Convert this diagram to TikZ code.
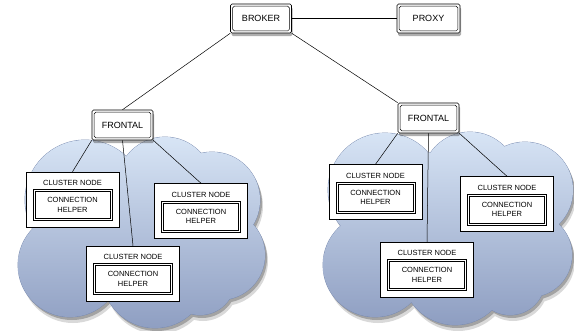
\documentclass[tikz,border=0pt]{standalone}
\usepackage{fontspec}
\setmainfont{Liberation Sans}
\usetikzlibrary{shadows}
\definecolor{cloudtop}{RGB}{218,231,247}
\definecolor{cloudbot}{RGB}{140,156,192}
\definecolor{cloudline}{RGB}{120,138,175}
\tikzset{
  cloudL/.style={insert path={(85,200) circle[radius=60] (165,185) circle[radius=48] (212,200) circle[radius=48]
     (220,255) circle[radius=45] (70,265) circle[radius=52] (155,275) circle[radius=53] (200,280) circle[radius=35]
     (140,230) circle[radius=70]}},
  cloudR/.style={insert path={(385,190) circle[radius=57] (470,180) circle[radius=48] (525,190) circle[radius=48]
     (530,255) circle[radius=42] (375,265) circle[radius=52] (455,272) circle[radius=53] (510,280) circle[radius=35]
     (450,225) circle[radius=75]}},
  innerframe/.style={path picture={\draw[line width=0.5pt]
     ([shift={(#1,#1)}]path picture bounding box.south west) rectangle
     ([shift={(-#1,-#1)}]path picture bounding box.north east);}},
  topbox/.style={draw, line width=0.6pt, rounded corners=1.5pt, fill=white, innerframe=2.2pt,
     minimum width=61pt, minimum height=29pt, font=\fontsize{9}{11}\selectfont,
     drop shadow={shadow xshift=1pt, shadow yshift=-3pt, opacity=0.45, fill=black!70}},
  cnbox/.style={draw, line width=0.5pt, fill=white, minimum width=93pt, minimum height=55pt},
  cnlabel/.style={inner sep=0pt, font=\fontsize{7.5}{9}\selectfont},
  helper/.style={draw, line width=0.5pt, fill=white, innerframe=2pt, align=center,
     minimum width=79pt, minimum height=31pt, inner sep=1pt, font=\fontsize{7.5}{9.5}\selectfont},
  link/.style={draw, line width=0.5pt}
}
\begin{document}
\begin{tikzpicture}[x=1pt, y=-1pt]
\useasboundingbox (0,0) rectangle (574,330);
% cloud shadows
\fill[black, opacity=0.15, shift={(3,6)}, cloudL];
\fill[black, opacity=0.25, shift={(2,3)}, cloudL];
\fill[black, opacity=0.15, shift={(3,6)}, cloudR];
\fill[black, opacity=0.25, shift={(2,3)}, cloudR];
% cloud outlines
\draw[cloudline, line width=0.8pt, cloudL];
\draw[cloudline, line width=0.8pt, cloudR];
% cloud fills
\begin{scope}
  \path[clip, cloudL];
  \shade[top color=cloudtop, bottom color=cloudbot] (0,130) rectangle (280,335);
\end{scope}
\begin{scope}
  \path[clip, cloudR];
  \shade[top color=cloudtop, bottom color=cloudbot] (300,125) rectangle (574,330);
\end{scope}
% top level
\node[topbox] (broker) at (261,18.5) {BROKER};
\node[topbox, minimum width=63pt] (proxy) at (428.5,18.5) {PROXY};
\node[topbox, minimum height=30pt] (frontL) at (122.5,125) {FRONTAL};
\node[topbox, minimum height=30pt] (frontR) at (428.5,118) {FRONTAL};
% left cluster
\node[cnbox] (l1) at (72.5,199.5) {};
\node[cnlabel] (l1t) at (72.5,183) {CLUSTER NODE};
\node[helper] (l1h) at (72.5,205) {CONNECTION\\HELPER};
\node[cnbox] (l2) at (201,211) {};
\node[cnlabel] (l2t) at (201,194.5) {CLUSTER NODE};
\node[helper] (l2h) at (201,216.5) {CONNECTION\\HELPER};
\node[cnbox] (l3) at (133,273.5) {};
\node[cnlabel] (l3t) at (133,257) {CLUSTER NODE};
\node[helper] (l3h) at (133,279) {CONNECTION\\HELPER};
% right cluster
\node[cnbox] (r1) at (375.5,192) {};
\node[cnlabel] (r1t) at (375.5,175.5) {CLUSTER NODE};
\node[helper] (r1h) at (375.5,197.5) {CONNECTION\\HELPER};
\node[cnbox] (r2) at (507,204) {};
\node[cnlabel] (r2t) at (507,187.5) {CLUSTER NODE};
\node[helper] (r2h) at (507,209.5) {CONNECTION\\HELPER};
\node[cnbox] (r3) at (427,269.5) {};
\node[cnlabel] (r3t) at (427,253) {CLUSTER NODE};
\node[helper] (r3h) at (427,275) {CONNECTION\\HELPER};
% links
\path[link] (broker) -- (proxy);
\path[link] (broker.south west) -- (frontL.north);
\path[link] (broker.south east) -- (frontR.north west);
\path[link] (frontL.south west) -- (l1.north);
\path[link] (frontL.south) -- (l3.north);
\path[link] (frontL.south east) -- (l2.north);
\path[link] (frontR.south west) -- (r1.north);
\path[link] (frontR.south) -- (r3.north);
\path[link] (frontR.south east) -- (r2.north);
\end{tikzpicture}
\end{document}
